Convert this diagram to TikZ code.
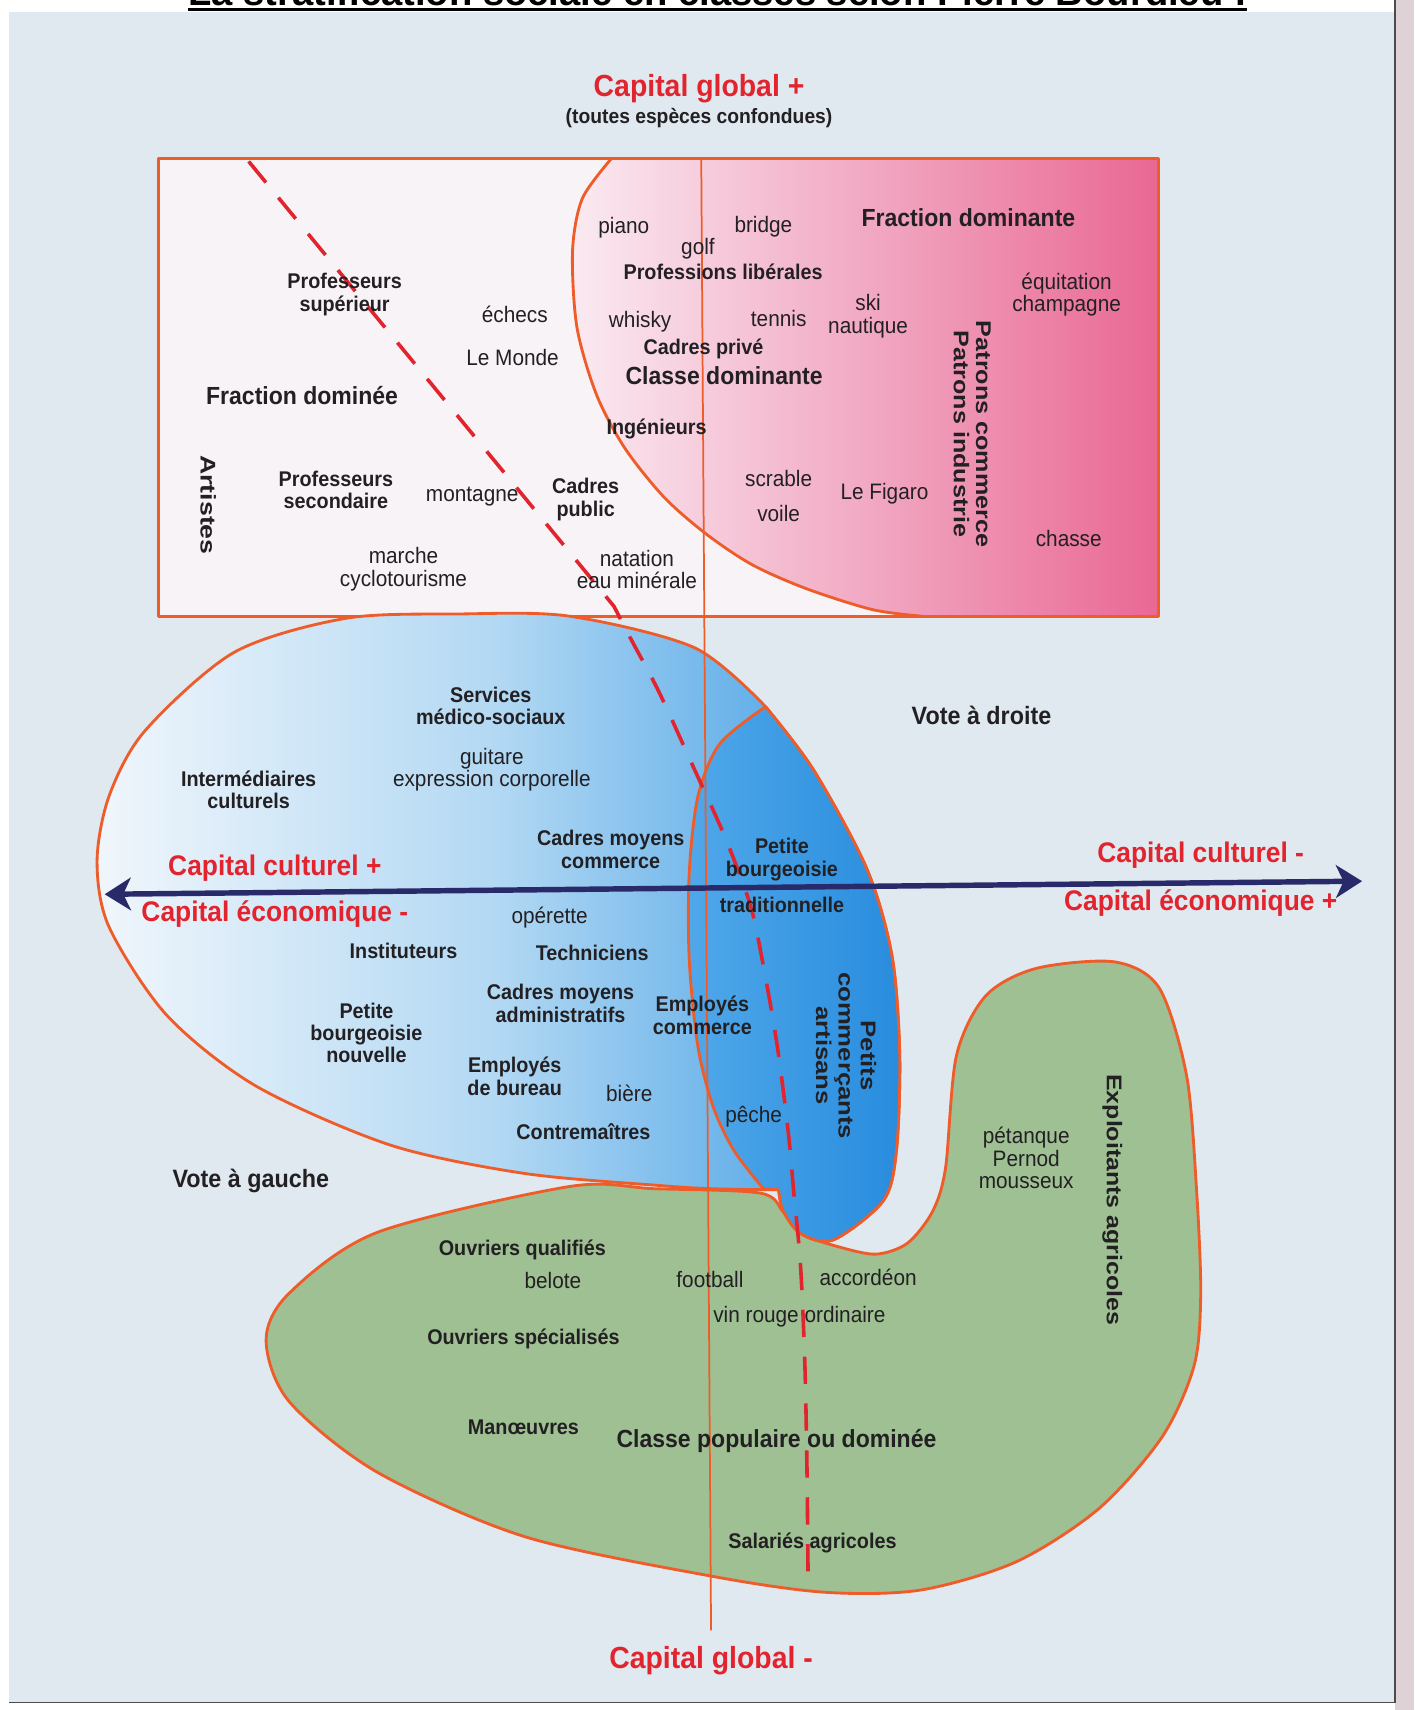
\documentclass[tikz,border=0pt]{standalone}
\usepackage{fontspec}
\setmainfont{Liberation Sans}[FakeStretch=0.93]
\newfontfamily\titlefont{Liberation Sans}
\usetikzlibrary{arrows.meta}
\definecolor{paper}{RGB}{224,233,239}
\definecolor{marg}{RGB}{222,210,215}
\definecolor{outl}{RGB}{238,92,42}
\definecolor{rectw}{RGB}{248,243,246}
\definecolor{pinkL}{RGB}{250,234,241}
\definecolor{pinkR}{RGB}{233,104,148}
\definecolor{blueL}{RGB}{240,246,251}
\definecolor{blueM}{RGB}{178,216,243}
\definecolor{blueR}{RGB}{60,155,228}
\definecolor{ellL}{RGB}{80,168,233}
\definecolor{ellR}{RGB}{40,140,222}
\definecolor{greenF}{RGB}{158,192,146}
\definecolor{navy}{RGB}{40,42,105}
\definecolor{redtxt}{RGB}{226,36,46}
\definecolor{txt}{RGB}{35,32,35}
\newcommand\vstk[2]{\scalebox{#1}[1]{\begin{tabular}{@{}c@{}}#2\end{tabular}}}
\begin{document}
\begin{tikzpicture}[x=1pt,y=-1pt,
  outline/.style={draw=outl, line width=2.6pt, line join=round},
  reg/.style={font=\fontsize{20.5}{20.5}\selectfont, text=txt, align=center, inner sep=0pt},
  bld/.style={font=\bfseries\fontsize{19.5}{20.5}\selectfont, text=txt, align=center, inner sep=0pt},
  big/.style={font=\bfseries\fontsize{22.7}{24}\selectfont, text=txt, align=center, inner sep=0pt},
  vote/.style={font=\bfseries\fontsize{23}{24}\selectfont, text=txt, inner sep=0pt},
  redlab/.style={font=\bfseries\fontsize{26}{28}\selectfont, text=redtxt, inner sep=0pt},
  globlab/.style={font=\bfseries\fontsize{28}{30}\selectfont, text=redtxt, inner sep=0pt},
  vert/.style={font=\bfseries\fontsize{19.5}{20.5}\selectfont, text=txt, rotate=-90, inner sep=0pt},
  reddash/.style={draw=redtxt, line width=3.3pt, dash pattern=on 25pt off 18pt},
  axisline/.style={draw=navy, line width=5pt, {Stealth[length=24pt,width=30pt,inset=7pt]}-{Stealth[length=24pt,width=30pt,inset=7pt]}}
]
\useasboundingbox (0,0) rectangle (1297,1568);
% page
\fill[white] (0,0) rectangle (1297,1568);
\fill[paper] (8,11) rectangle (1279,1561);
\fill[marg] (1279,0) rectangle (1297,1568);
\draw[black!70, line width=1.2pt] (1279,0) -- (1279,1561) -- (8,1561);
% title
\node[font=\titlefont\bfseries\fontsize{35}{40}\selectfont, anchor=base, inner sep=0pt] (title) at (658,4.6) {La stratification sociale en classes selon Pierre Bourdieu :};
\draw[line width=2.6pt] ([yshift=-4.2pt]title.base west) -- ([yshift=-4.2pt]title.base east);

% pink box
\fill[rectw] (145,145) rectangle (1062,565);
\path[left color=pinkL, right color=pinkR] plot[smooth] coordinates {(561,145) (534,182) (525,230) (529,300) (547,362) (573,411) (609,456) (648,490) (690,518) (740,540) (800,559) (845,565)} -- (1062,565) -- (1062,145) -- cycle;
\draw[outline] plot[smooth] coordinates {(561,145) (534,182) (525,230) (529,300) (547,362) (573,411) (609,456) (648,490) (690,518) (740,540) (800,559) (845,565)};
\draw[outline] (145,145) rectangle (1062,565);

% green region
\draw[outline, fill=greenF] plot[smooth cycle] coordinates {(522,1088) (346,1130) (265,1186) (244,1229) (265,1285) (346,1350) (481,1409) (651,1445) (756,1460) (844,1458) (932,1432) (1008,1383) (1066,1317) (1095,1252) (1101,1186) (1097,1088) (1088,986) (1063,906) (1022,882) (950,888) (904,913) (877,968) (867,1071) (855,1111) (832,1140) (803,1150) (768,1143) (734,1131) (718,1111) (697,1094) (600,1090)};

% blue bubble
\draw[outline, left color=blueL, right color=blueR, middle color=blueM] plot[smooth] coordinates {(702,648) (746,706) (795,797) (818,877) (825,967) (822,1055) (810,1101) (764,1137) (734,1131) (718,1110) (714,1091)} -- plot[smooth] coordinates {(714,1091) (653,1090) (604,1087) (481,1076) (358,1050) (235,996) (153,931) (100,850) (89,790) (100,730) (133,670) (215,598) (317,567) (420,563) (522,565) (637,594) (702,648)} -- cycle;

% ellipse (petite bourgeoisie traditionnelle)
\draw[outline, left color=ellL, right color=ellR] plot[smooth] coordinates {(702,648) (746,706) (795,797) (818,877) (825,967) (822,1055) (810,1101) (764,1137) (734,1131) (718,1110) (714,1091)} -- (700,1090) -- plot[smooth] coordinates {(700,1090) (673,1055) (654,1015) (640,960) (632,880) (632,800) (640,730) (660,682) (702,648)} -- cycle;

% vertical axis
\coordinate (vtop) at (643,145);
\coordinate (vbot) at (652,1495);
\draw[outl, line width=1.6pt] (vtop) -- (vbot);

% dashed frontier
\draw[reddash] (228,148) -- plot[smooth] coordinates {(563,556) (578,585) (604,634) (637,706) (662,761) (679,804) (691,841) (705,913) (714,968) (723,1040) (728,1095) (734,1160) (738,1250) (740,1350) (741,1452)};

% horizontal axis
\coordinate (axL) at (96,820);
\coordinate (axR) at (1249,808);
\draw[axisline] (axL) -- (axR);

% top labels
\node[globlab] (cgp) at (641,81) {Capital global +};
\node[bld, font=\bfseries\fontsize{19}{20}\selectfont] (tec) at (641,108) {(toutes espèces confondues)};

% rectangle texts
\node[bld] (profsup) at (316,270) {Professeurs\\supérieur};
\node[reg] (echecs) at (472,288) {échecs};
\node[reg] (lemonde) at (470,328) {Le Monde};
\node[big] (fracdom) at (277,363) {Fraction dominée};
\node[vert] (artistes) at (191,463) {\scalebox{1.35}[1]{Artistes}};
\node[bld] (profsec) at (308,449) {Professeurs\\secondaire};
\node[reg] (montagne) at (433,455) {montagne};
\node[bld] (cadpub) at (537,458) {Cadres\\public};
\node[reg] (marche) at (370,522) {marche\\cyclotourisme};
\node[reg] (natation) at (584,522) {natation\\eau minérale};
\node[reg] (piano) at (572,209) {piano};
\node[reg] (golf) at (640,228) {golf};
\node[reg] (bridge) at (700,208) {bridge};
\node[bld] (proflib) at (663,249) {Professions libérales};
\node[reg] (whisky) at (587,295) {whisky};
\node[reg] (tennis) at (714,292) {tennis};
\node[reg] (skinaut) at (796,290) {ski\\nautique};
\node[bld] (cadpriv) at (645,320) {Cadres privé};
\node[big] (classdom) at (664,344) {Classe dominante};
\node[bld] (ingen) at (602,393) {Ingénieurs};
\node[big] (fracdomin) at (888,200) {Fraction dominante};
\node[reg] (equit) at (978,270) {équitation\\champagne};
\node[vert] (patrons) at (889,398) {\vstk{1.27}{Patrons commerce\\Patrons industrie}};
\node[reg] (scrable) at (714,439) {scrable};
\node[reg] (voile) at (714,471) {voile};
\node[reg] (figaro) at (811,453) {Le Figaro};
\node[reg] (chasse) at (980,494) {chasse};

% blue texts
\node[bld] (services) at (450,647) {Services\\médico-sociaux};
\node[reg] (guitare) at (451,706) {guitare\\expression corporelle};
\node[bld] (intercult) at (228,724) {Intermédiaires\\culturels};
\node[bld] (cmcomm) at (560,779) {Cadres moyens\\commerce};
\node[redlab] (ccplus) at (252,796) {Capital culturel +};
\node[redlab] (ceminus) at (252,838) {Capital économique -};
\node[reg] (operette) at (504,841) {opérette};
\node[bld] (instit) at (370,872) {Instituteurs};
\node[bld] (techn) at (543,874) {Techniciens};
\node[bld] (pbn) at (336,947) {Petite\\bourgeoisie\\nouvelle};
\node[bld] (cmadm) at (514,920) {Cadres moyens\\administratifs};
\node[bld] (empcomm) at (644,931) {Employés\\commerce};
\node[bld] (empbur) at (472,987) {Employés\\de bureau};
\node[reg] (biere) at (577,1003) {bière};
\node[bld] (contrem) at (535,1038) {Contremaîtres};
\node[reg] (peche) at (691,1024) {pêche};
\node[bld] (pbt) at (717,803) {Petite\\bourgeoisie\\[13pt]traditionnelle};
\node[vert] (pca) at (773,968) {\vstk{1.3}{Petits\\commerçants\\artisans}};
\node[vote] (votedr) at (900,656) {Vote à droite};
\node[vote] (votega) at (230,1083) {Vote à gauche};
\node[redlab] (ccminus) at (1101,784) {Capital culturel -};
\node[redlab] (ceplus) at (1101,828) {Capital économique +};

% green texts
\node[reg] (petanque) at (941,1062) {pétanque\\Pernod\\mousseux};
\node[vert] (exploit) at (1020,1100) {\scalebox{1.26}[1]{Exploitants agricoles}};
\node[bld] (ouvqual) at (479,1146) {Ouvriers qualifiés};
\node[reg] (belote) at (507,1174) {belote};
\node[reg] (football) at (651,1173) {football};
\node[reg] (accordeon) at (796,1171) {accordéon};
\node[reg] (vinrouge) at (733,1207) {vin rouge ordinaire};
\node[bld] (ouvspec) at (480,1228) {Ouvriers spécialisés};
\node[bld] (manoeuvres) at (480,1309) {Manœuvres};
\node[big] (classpop) at (712,1321) {Classe populaire ou dominée};
\node[bld] (salaries) at (745,1415) {Salariés agricoles};
\node[globlab] (cgm) at (652,1523) {Capital global -};
\end{tikzpicture}
\end{document}
